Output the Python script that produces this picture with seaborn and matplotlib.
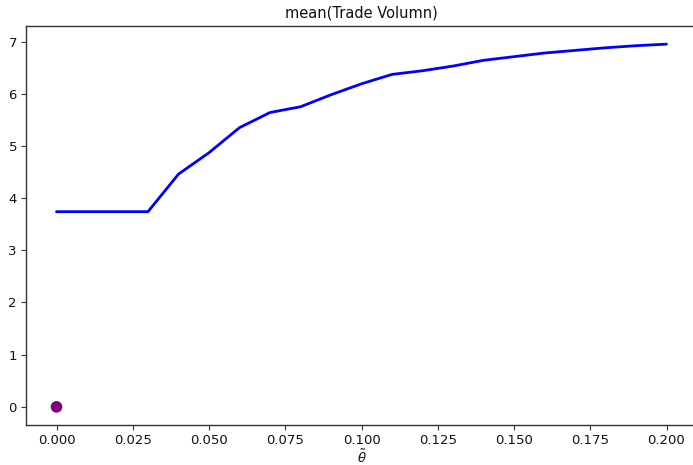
import matplotlib
matplotlib.use("Agg")
import matplotlib.pyplot as plt
import seaborn as sns
import pandas as pd

theta = [0.00, 0.01, 0.02, 0.03, 0.04, 0.05, 0.06, 0.07, 0.08, 0.09, 0.10,
         0.11, 0.12, 0.13, 0.14, 0.15, 0.16, 0.17, 0.18, 0.19, 0.20]
trade_volume = [3.74, 3.74, 3.74, 3.74, 4.46, 4.87, 5.35, 5.64, 5.75, 5.98, 6.19,
                6.37, 6.44, 6.53, 6.64, 6.71, 6.78, 6.83, 6.88, 6.92, 6.95]
base_theta = [0.0]
base_volume = [0.0]

sns.set_style("white")
plt.rcParams["font.family"] = ["DejaVu Sans"]

fig = plt.figure(figsize=(6.93, 4.65), dpi=100)
ax = fig.add_axes([26 / 693, 40 / 465, 671 / 693, 399 / 465])

df = pd.DataFrame({"theta": theta, "volume": trade_volume})
sns.lineplot(data=df, x="theta", y="volume", color="#0000ff", linewidth=2, ax=ax)
sns.scatterplot(x=base_theta, y=base_volume, color="purple", s=70,
                edgecolor="none", ax=ax, zorder=3)

ax.set_title("mean(Trade Volumn)", fontsize=10.5, color="#111111")
ax.set_xlabel(r"$\tilde{\theta}$", fontsize=9.5, labelpad=1, color="#111111")
ax.set_ylabel("")
ax.tick_params(axis="both", labelsize=9.5, direction="out", length=3.5,
               width=0.8, color="#333333", labelcolor="#111111",
               left=True, bottom=True, pad=3)
ax.set_xticks([0.0, 0.025, 0.05, 0.075, 0.1, 0.125, 0.15, 0.175, 0.2])
ax.set_xticklabels(["0.000", "0.025", "0.050", "0.075", "0.100",
                    "0.125", "0.150", "0.175", "0.200"])
ax.set_yticks(range(0, 8))
for sp in ax.spines.values():
    sp.set_color("#333333")
    sp.set_linewidth(1.0)
ax.margins(x=0.05, y=0.05)

fig.savefig("out.png", dpi=100)
